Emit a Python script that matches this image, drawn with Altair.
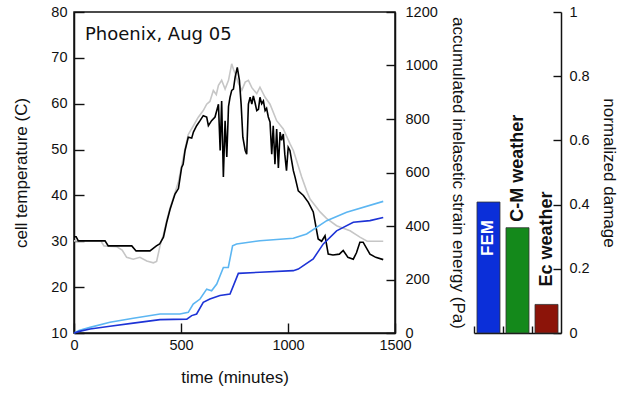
import altair as alt
import pandas as pd

# ---------------- data ----------------
black_t = [0, 10, 20, 145, 160, 270, 290, 355, 385, 400, 418, 433, 449, 472, 488, 503, 510, 519,
           534, 550, 558, 573, 589, 604, 620, 628, 643, 659, 675, 683, 690, 698, 706, 714, 722,
           729, 737, 745, 753, 763, 773, 781, 789, 800, 807, 815, 823, 831, 838, 846, 854, 862,
           869, 877, 885, 893, 900, 908, 916, 924, 931, 939, 947, 955, 963, 970, 978, 985, 993,
           1001, 1009, 1017, 1025, 1033, 1048, 1072, 1095, 1118, 1141, 1157, 1173, 1188, 1210,
           1240, 1258, 1280, 1305, 1320, 1336, 1351, 1383, 1410, 1445]
black_T = [31.0, 31.0, 30.1, 30.1, 29.0, 29.0, 27.9, 27.9, 29.0, 29.4, 30.9, 34.1, 37.0, 40.3, 41.5,
           46.1, 46.8, 49.8, 52.7, 52.5, 53.8, 55.2, 56.3, 57.4, 57.1, 55.2, 56.3, 57.1, 59.9, 49.8,
           60.6, 44.0, 56.3, 48.4, 59.4, 61.4, 62.9, 63.2, 65.8, 67.9, 65.1, 59.9, 52.7, 49.8, 49.0,
           59.9, 61.4, 59.9, 61.7, 60.2, 58.5, 58.8, 61.4, 60.0, 60.6, 58.5, 59.0, 57.1, 56.0, 49.0,
           55.2, 46.8, 54.5, 46.0, 53.8, 52.0, 53.4, 49.0, 45.4, 50.5, 49.8, 47.6, 45.4, 44.0, 41.0,
           40.0, 38.5, 36.4, 30.5, 30.0, 31.2, 27.2, 27.0, 27.2, 28.0, 26.5, 26.1, 27.5, 29.8, 29.8,
           27.2, 26.5, 26.0]

gray_t = [0, 125, 140, 200, 225, 246, 277, 308, 340, 371, 386, 402, 418, 433, 449, 472, 488, 503,
          519, 534, 558, 580, 604, 620, 635, 651, 665, 675, 690, 706, 722, 737, 745, 753, 768, 784,
          800, 815, 831, 854, 869, 893, 916, 947, 978, 1009, 1025, 1040, 1064, 1087, 1103, 1150,
          1180, 1227, 1290, 1336, 1370, 1445]
gray_T = [30.1, 30.1, 29.0, 28.8, 28.1, 26.5, 26.1, 26.5, 25.7, 25.3, 25.6, 29.0, 31.5, 34.5, 37.3,
          40.6, 43.0, 46.5, 50.2, 53.3, 55.2, 57.0, 58.5, 59.9, 60.5, 62.9, 62.0, 64.0, 65.1, 63.2,
          65.1, 68.7, 67.5, 66.6, 64.5, 62.9, 64.7, 65.1, 63.5, 62.2, 63.6, 61.4, 59.9, 56.3, 54.5,
          51.3, 49.8, 47.6, 44.0, 41.0, 39.2, 36.4, 35.0, 33.4, 32.3, 30.9, 30.0, 30.0]

lblue_t = [0, 23, 75, 168, 277, 402, 495, 534, 557, 589, 620, 643, 667, 698, 721, 741, 760, 869,
           1025, 1087, 1181, 1274, 1445]
lblue_E = [0, 9, 21, 40, 55, 71, 71, 77, 108, 127, 164, 158, 183, 245, 245, 326, 333, 345, 354,
           370, 420, 451, 492]

blue_t = [0, 25, 75, 168, 277, 402, 527, 550, 573, 604, 635, 682, 729, 745, 768, 869, 1025, 1048,
          1118, 1165, 1227, 1305, 1383, 1445]
blue_E = [0, 6, 15, 25, 37, 50, 52, 65, 71, 115, 127, 140, 146, 177, 223, 227, 233, 239, 277, 333,
          382, 414, 420, 432]

bar_names = ["FEM", "C-M weather", "Ec weather"]
bar_values = [0.408, 0.328, 0.089]
bar_colors = ["#0b2fd9", "#14891b", "#8c1409"]

panel_label = "Phoenix, Aug 05"

x_ticks = [0, 500, 1000, 1500]
temp_ticks = [10, 20, 30, 40, 50, 60, 70, 80]
energy_ticks = [0, 200, 400, 600, 800, 1000, 1200]
damage_ticks = [0, 0.2, 0.4, 0.6, 0.8, 1.0]

# ---------------- layout ----------------
W, H = 321, 321
BW = 87
FONT = "Liberation Sans"
INK = "#111111"

xs = alt.Scale(domain=[0, 1500], nice=False, zero=False)
ts = alt.Scale(domain=[10, 80], nice=False, zero=False)
es = alt.Scale(domain=[0, 1200], nice=False, zero=False)
ds = alt.Scale(domain=[0, 1], nice=False, zero=False)
bs = alt.Scale(domain=bar_names, paddingInner=0.207, paddingOuter=0.103)

# inward ticks: a negative tick length (given as an expression), labels pushed back out
tick_style = dict(ticks=True, tickColor=INK, tickWidth=1.4, labelOverlap=False,
                  labelFlush=False)

x_axis = alt.Axis(values=x_ticks, format="d", title="time (minutes)",
                  tickSize=alt.ExprRef(expr="-10"), labelPadding=15, titlePadding=18,
                  **tick_style)
t_axis = alt.Axis(values=temp_ticks, orient="left", title="cell temperature (C)",
                  tickSize=alt.ExprRef(expr="-10"), labelPadding=17, titlePadding=20,
                  **tick_style)
e_axis = alt.Axis(values=energy_ticks, orient="right", format="d",
                  title="accumulated inelasetic strain energy (Pa)",
                  tickSize=alt.ExprRef(expr="-9"), labelPadding=19, titlePadding=11,
                  **tick_style)
d_axis = alt.Axis(values=damage_ticks, orient="right", format="~g", title="normalized damage",
                  tickSize=alt.ExprRef(expr="-8"), labelPadding=16, titlePadding=10,
                  **tick_style)
b_axis = alt.Axis(labels=False, title=None, domain=True, bandPosition=0, tickOffset=-3,
                  tickSize=alt.ExprRef(expr="-7"), **tick_style)

gray = alt.Chart(pd.DataFrame({"t": gray_t, "T": gray_T})).mark_line(
    color="#c6c6c6", strokeWidth=1.6).encode(
    x=alt.X("t:Q", scale=xs, axis=x_axis),
    y=alt.Y("T:Q", scale=ts, axis=t_axis),
)
black = alt.Chart(pd.DataFrame({"t": black_t, "T": black_T})).mark_line(
    color="#000000", strokeWidth=1.6).encode(
    x=alt.X("t:Q", scale=xs),
    y=alt.Y("T:Q", scale=ts),
)
label = alt.Chart(pd.DataFrame({"s": [panel_label]})).mark_text(
    align="left", baseline="alphabetic", font="DejaVu Sans", fontSize=18, color=INK).encode(
    text="s:N", x=alt.value(11), y=alt.value(28))

left_group = alt.layer(gray, black, label)

lblue = alt.Chart(pd.DataFrame({"t": lblue_t, "E": lblue_E})).mark_line(
    color="#5cb6f2", strokeWidth=1.6).encode(
    x=alt.X("t:Q", scale=xs),
    y=alt.Y("E:Q", scale=es, axis=e_axis),
)
blue = alt.Chart(pd.DataFrame({"t": blue_t, "E": blue_E})).mark_line(
    color="#1d33d6", strokeWidth=1.6).encode(
    x=alt.X("t:Q", scale=xs),
    y=alt.Y("E:Q", scale=es),
)
right_group = alt.layer(lblue, blue)

main = alt.layer(left_group, right_group).resolve_scale(y="independent").properties(
    width=W, height=H, view=alt.ViewBackground(stroke=INK, strokeWidth=1.5))

# ---------------- bar panel ----------------
bdf = pd.DataFrame({"name": bar_names, "d": bar_values})

bars = alt.Chart(bdf).mark_bar(stroke="#333333", strokeWidth=0.8).encode(
    x=alt.X("name:N", scale=bs, sort=bar_names, axis=b_axis),
    y=alt.Y("d:Q", scale=ds, axis=d_axis),
    color=alt.Color("name:N", scale=alt.Scale(domain=bar_names, range=bar_colors), legend=None),
)


def bar_text(name, align, dx, color, size):
    return alt.Chart(bdf).transform_filter(alt.datum.name == name).mark_text(
        angle=270, align=align, baseline="middle", dx=dx, color=color,
        fontWeight="bold", fontSize=size, font=FONT).encode(
        x=alt.X("name:N", scale=bs),
        y=alt.Y("d:Q", scale=ds),
        text="name:N")


bar_panel = alt.layer(
    bars,
    bar_text("FEM", "right", -18, "white", 17),
    bar_text("C-M weather", "left", 6, INK, 18),
    bar_text("Ec weather", "left", 18, INK, 18),
).properties(width=BW, height=H)

chart = alt.hconcat(main, bar_panel, spacing=5).properties(
    padding={"left": 12, "top": 3, "right": 5, "bottom": 5}
).configure_view(strokeWidth=0).configure_axis(
    labelFont=FONT, titleFont=FONT, labelFontSize=14.5, titleFontSize=17,
    titleFontWeight="normal", labelColor=INK, titleColor=INK,
    domainColor=INK, domainWidth=1.5, grid=False,
    labelFlush=False, labelOverlap=False,
)

chart.save("out.html", embed_options={"renderer": "svg", "actions": False})
